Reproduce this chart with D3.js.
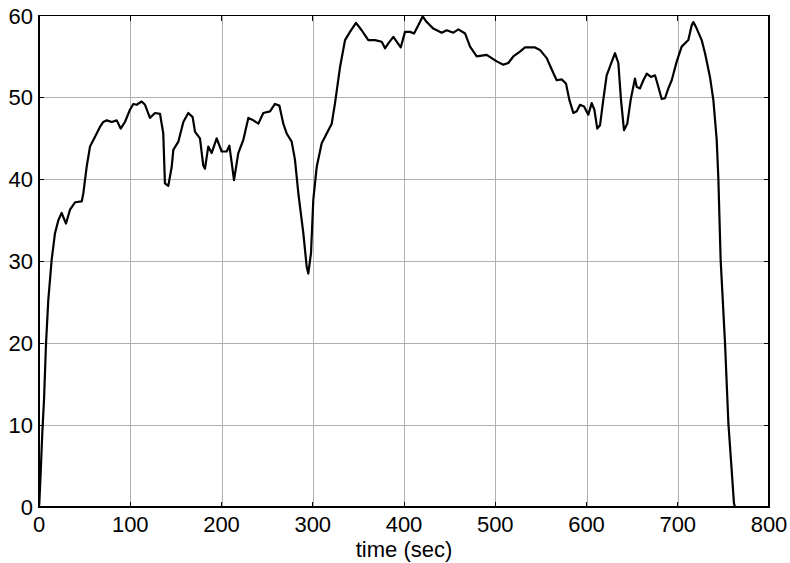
<!DOCTYPE html>
<html>
<head>
<meta charset="utf-8">
<script src="https://cdnjs.cloudflare.com/ajax/libs/d3/7.8.5/d3.min.js"></script>
<style>
  body { margin: 0; background: #fff; }
  svg { display: block; }
  .grid-line { stroke: #b0b0b0; stroke-width: 1; shape-rendering: crispEdges; }
  .frame { fill: none; stroke: #000; stroke-width: 1.2; shape-rendering: crispEdges; }
  .tick-mark { stroke: #000; stroke-width: 1; shape-rendering: crispEdges; }
  .tick-label { font-family: "Liberation Sans", Arial, sans-serif; font-size: 22px; fill: #000; }
  .trace { fill: none; stroke: #000; stroke-width: 2.2; stroke-linejoin: round; }
</style>
</head>
<body>
<svg id="chart" width="790" height="563"></svg>
<script>
const timeSec = [
  0, 0.4, 1.8, 3.6, 5.5, 7.7, 10.2, 13.9, 17.5, 21.2, 24.8, 26.6, 29.6, 34, 39.5, 46.8,
  48.6, 52.2, 55.9, 61.4, 66.8, 70.5, 74.2, 79.7, 85.2, 89.5, 94.2, 99.7, 103.4, 107,
  112.5, 116.2, 121.6, 127.1, 132.6, 136.2, 138, 141.7, 145.4, 147.2, 152.7, 158.2,
  163.6, 168.4, 171, 176.4, 180, 181.9, 185.5, 189.2, 194.7, 200.2, 205.7, 208.6,
  211.2, 213.7, 218.4, 223.9, 229.4, 234.9, 240.4, 245.8, 253.2, 258.6, 263.4, 267.7,
  271.4, 276.9, 280.5, 284.2, 289.7, 293.4, 295.1, 298.1, 300.6, 304.3, 309.8, 315.3,
  320.8, 324.4, 329.9, 335.4, 340.8, 347.4, 353.6, 360.9, 368.2, 375.6, 379.2, 382.8,
  388.3, 392, 396.4, 401.1, 406.6, 411, 417.5, 420.5, 424.9, 432.1, 441.3, 446.8,
  454.1, 459.6, 467, 472.4, 479.7, 490.6, 501.6, 508.9, 514.3, 519.8, 527.1, 532.6,
  543.6, 549, 556.4, 561.9, 567.3, 572.8, 577.5, 581.2, 585.6, 589.3, 592.9, 597.3,
  602, 605.7, 608.6, 611.8, 614.8, 618.4, 622.1, 625.8, 631.2, 634.9, 637.8, 641.1,
  644.7, 648.4, 653.1, 655, 658.6, 662.3, 666, 670.7, 675.1, 678.7, 682.4, 686,
  689.7, 693.4, 698.9, 704.3, 711.6, 715.3, 717.1, 720.8, 726.2, 729.9, 735.3, 739,
  742.7, 744.5, 747, 751.8, 755.5, 759.1, 761.6, 762.7
];
const speed = [
  0, 0.6, 4.1, 9, 13.1, 20, 25.3, 30.2, 33.4, 35, 35.9, 35.4, 34.6, 36.3, 37.2, 37.3,
  38.3, 41.5, 44, 45.2, 46.4, 47, 47.2, 47, 47.2, 46.2, 47, 48.5, 49.2, 49.1,
  49.5, 49.1, 47.5, 48.1, 48, 45.6, 39.5, 39.2, 41.5, 43.6, 44.6, 47,
  48.1, 47.6, 45.8, 45, 41.7, 41.3, 44, 43.2, 45, 43.4, 43.4, 44.1,
  42, 39.9, 43.2, 44.8, 47.5, 47.2, 46.8, 48.1, 48.3, 49.2, 49, 46.8,
  45.6, 44.6, 42.4, 38.3, 33.4, 29.3, 28.5, 31, 37.5, 41.5, 44.4, 45.6,
  46.8, 49.3, 53.7, 57, 58, 59.1, 58.2, 57, 57, 56.8, 56, 56.6,
  57.4, 56.8, 56.1, 58, 58, 57.8, 59.2, 59.9, 59.2, 58.4, 57.9, 58.2,
  57.9, 58.3, 57.8, 56.2, 55, 55.2, 54.4, 54, 54.2, 55, 55.6, 56.1,
  56.1, 55.8, 54.8, 53.4, 52.1, 52.2, 51.7, 49.7, 48.1, 48.3, 49.1, 48.9,
  47.9, 49.3, 48.5, 46.2, 46.6, 49.7, 52.7, 53.8, 55.4, 54.2, 49.7, 46,
  46.8, 49.7, 52.3, 51.3, 51.1, 52.1, 52.9, 52.5, 52.7, 51.3, 49.8, 49.9,
  51.1, 52.1, 54.4, 56.2, 57, 58.8, 59.2, 58.4, 57, 55.4, 52.5, 49.7,
  44.8, 40.1, 30.2, 20, 10.2, 4.5, 0.45, 0
];
const xTicks = [0, 100, 200, 300, 400, 500, 600, 700, 800];
const yTicks = [0, 10, 20, 30, 40, 50, 60];
const xLabel = "time (sec)";

const svg = d3.select("#chart");
const margin = { top: 15.5, left: 39, right: 21, bottom: 56 };
const width = 790 - margin.left - margin.right;
const height = 563 - margin.top - margin.bottom;

const x = d3.scaleLinear().domain([0, 800]).range([margin.left, margin.left + width]);
const y = d3.scaleLinear().domain([0, 60]).range([margin.top + height, margin.top]);

const points = timeSec.map((t, i) => ({ t, v: speed[i] }));

const grid = svg.append("g").attr("class", "grid");
grid.selectAll("line.vertical")
  .data(xTicks.slice(1, -1))
  .join("line")
  .attr("class", "grid-line vertical")
  .attr("x1", (d) => Math.round(x(d)) + 0.5)
  .attr("x2", (d) => Math.round(x(d)) + 0.5)
  .attr("y1", y(60))
  .attr("y2", y(0));
grid.selectAll("line.horizontal")
  .data(yTicks.slice(1, -1))
  .join("line")
  .attr("class", "grid-line horizontal")
  .attr("x1", x(0))
  .attr("x2", x(800))
  .attr("y1", (d) => Math.round(y(d)) + 0.5)
  .attr("y2", (d) => Math.round(y(d)) + 0.5);

// inward ticks on all four sides, like a boxed matlab axis
const tickLen = 5;
const ticks = svg.append("g").attr("class", "ticks");
ticks.selectAll("line.xb")
  .data(xTicks)
  .join("line")
  .attr("class", "tick-mark")
  .attr("x1", (d) => x(d)).attr("x2", (d) => x(d))
  .attr("y1", y(0)).attr("y2", y(0) - tickLen);
ticks.selectAll("line.xt")
  .data(xTicks)
  .join("line")
  .attr("class", "tick-mark")
  .attr("x1", (d) => x(d)).attr("x2", (d) => x(d))
  .attr("y1", y(60)).attr("y2", y(60) + tickLen);
ticks.selectAll("line.yl")
  .data(yTicks)
  .join("line")
  .attr("class", "tick-mark")
  .attr("x1", x(0)).attr("x2", x(0) + tickLen)
  .attr("y1", (d) => y(d)).attr("y2", (d) => y(d));
ticks.selectAll("line.yr")
  .data(yTicks)
  .join("line")
  .attr("class", "tick-mark")
  .attr("x1", x(800)).attr("x2", x(800) - tickLen)
  .attr("y1", (d) => y(d)).attr("y2", (d) => y(d));

svg.append("path")
  .attr("class", "trace")
  .attr("d", d3.line().x((d) => x(d.t)).y((d) => y(d.v)).curve(d3.curveLinear)(points));

svg.append("rect")
  .attr("class", "frame")
  .attr("x", x(0))
  .attr("y", y(60))
  .attr("width", x(800) - x(0))
  .attr("height", y(0) - y(60));

svg.append("g").selectAll("text")
  .data(xTicks)
  .join("text")
  .attr("class", "tick-label")
  .attr("x", (d) => x(d))
  .attr("y", y(0) + 25)
  .attr("text-anchor", "middle")
  .text((d) => d);

svg.append("g").selectAll("text")
  .data(yTicks)
  .join("text")
  .attr("class", "tick-label")
  .attr("x", x(0) - 6)
  .attr("y", (d) => y(d) + 8)
  .attr("text-anchor", "end")
  .text((d) => d);

svg.append("text")
  .attr("class", "tick-label")
  .attr("x", (x(0) + x(800)) / 2)
  .attr("y", 557)
  .attr("text-anchor", "middle")
  .text(xLabel);
</script>
</body>
</html>
